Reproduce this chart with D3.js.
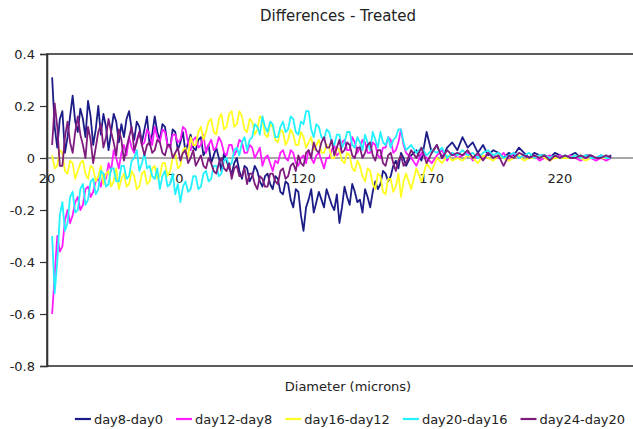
<!DOCTYPE html>
<html>
<head>
<meta charset="utf-8">
<script src="https://cdn.jsdelivr.net/npm/d3@7"></script>
<style>
  body { margin: 0; background: #fff; }
  svg { display: block; }
  text { font-family: "DejaVu Sans", Verdana, sans-serif; fill: #222; }
</style>
</head>
<body>
<svg id="chart" width="633" height="429"></svg>
<script>
// Diameter bins (microns): 1-micron bins up to 160, 2-micron bins beyond
const diameters = [
  22, 23, 24, 25, 26, 27, 28, 29, 30, 31,
  32, 33, 34, 35, 36, 37, 38, 39, 40, 41,
  42, 43, 44, 45, 46, 47, 48, 49, 50, 51,
  52, 53, 54, 55, 56, 57, 58, 59, 60, 61,
  62, 63, 64, 65, 66, 67, 68, 69, 70, 71,
  72, 73, 74, 75, 76, 77, 78, 79, 80, 81,
  82, 83, 84, 85, 86, 87, 88, 89, 90, 91,
  92, 93, 94, 95, 96, 97, 98, 99, 100, 101,
  102, 103, 104, 105, 106, 107, 108, 109, 110, 111,
  112, 113, 114, 115, 116, 117, 118, 119, 120, 121,
  122, 123, 124, 125, 126, 127, 128, 129, 130, 131,
  132, 133, 134, 135, 136, 137, 138, 139, 140, 141,
  142, 143, 144, 145, 146, 147, 148, 149, 150, 151,
  152, 153, 154, 155, 156, 157, 158, 159, 160,
  162, 164, 166, 168, 170, 172, 174, 176, 178, 180,
  182, 184, 186, 188, 190, 192, 194, 196, 198, 200,
  202, 204, 206, 208, 210, 212, 214, 216, 218, 220,
  222, 224, 226, 228, 230, 232, 234, 236, 238, 240
];

const seriesNames = ["day8-day0", "day12-day8", "day16-day12", "day20-day16", "day24-day20"];

const day8_day0 = [
  0.31, 0.12, 0.04, 0.15, 0.18, 0.02, 0.08, 0.16, 0.24, 0.14,
  0.10, 0.19, 0.15, 0.08, 0.22, 0.16, 0.05, 0.11, 0.20, 0.09,
  0.17, 0.12, 0.03, 0.10, 0.17, 0.14, 0.06, 0.13, 0.08, 0.15,
  0.18, 0.11, 0.07, 0.14, 0.12, 0.06, 0.11, 0.16, 0.05, 0.09,
  0.16, 0.10, 0.07, 0.13, 0.12, 0.05, 0.04, 0.11, 0.10, 0.03,
  0.06, 0.10, 0.02, 0.06, 0.09, 0.04, 0.03, 0.07, 0.08, 0.01,
  0.03, 0.05, -0.02, 0.01, 0.04, 0.00, -0.05, 0.02, -0.01, -0.04,
  -0.06, -0.02, 0.00, -0.05, -0.08, -0.03, -0.04, -0.09, -0.07, -0.03,
  -0.05, -0.09, -0.11, -0.07, -0.06, -0.10, -0.12, -0.07, -0.08, -0.13,
  -0.14, -0.09, -0.10, -0.16, -0.19, -0.12, -0.13, -0.22, -0.28, -0.19,
  -0.16, -0.12, -0.21, -0.17, -0.13, -0.16, -0.19, -0.12, -0.15, -0.18,
  -0.20, -0.14, -0.25, -0.19, -0.11, -0.15, -0.18, -0.10, -0.13, -0.17,
  -0.16, -0.21, -0.12, -0.15, -0.19, -0.13, -0.09, -0.12, -0.10, -0.05,
  -0.06, -0.09, -0.07, -0.03, -0.01, -0.04, 0.02, 0.00, -0.03,
  0.01, 0.03, -0.01, 0.10, 0.02, 0.05, 0.00, 0.04, 0.06, 0.03,
  0.08, 0.04, 0.06, 0.02, 0.05, 0.01, 0.03, 0.02, 0.00, 0.02,
  0.01, 0.04, 0.02, 0.00, 0.02, 0.01, 0.01, 0.00, 0.02, 0.01,
  0.00, 0.01, 0.02, 0.00, 0.01, 0.01, 0.00, 0.01, 0.00, 0.01
];

const day12_day8 = [
  -0.60, -0.45, -0.30, -0.36, -0.34, -0.24, -0.20, -0.25, -0.22, -0.17,
  -0.15, -0.20, -0.18, -0.12, -0.11, -0.15, -0.13, -0.09, -0.08, -0.11,
  -0.06, -0.08, -0.02, -0.05, 0.03, 0.00, -0.04, 0.02, 0.05, 0.01,
  0.08, 0.04, 0.02, 0.07, 0.10, 0.05, 0.06, 0.11, 0.09, 0.05,
  0.12, 0.08, 0.06, 0.11, 0.10, 0.05, 0.04, 0.09, 0.09, 0.06,
  0.07, 0.12, 0.11, 0.06, 0.03, 0.07, 0.08, 0.04, 0.05, 0.09,
  0.02, 0.05, 0.07, 0.03, 0.04, 0.08, 0.06, 0.02, 0.01, 0.05,
  0.05, 0.01, 0.03, 0.07, 0.06, 0.02, 0.02, 0.05, 0.04, 0.00,
  0.02, 0.04, -0.03, 0.00, 0.01, -0.02, -0.05, -0.01, -0.02, 0.02,
  0.03, 0.00, -0.01, 0.03, 0.02, -0.02, -0.03, 0.00, 0.01, -0.02,
  0.03, 0.00, -0.02, 0.01, 0.02, -0.01, -0.04, 0.00, 0.00, 0.03,
  0.05, 0.01, 0.02, 0.06, 0.07, 0.03, 0.03, 0.08, 0.06, 0.02,
  0.04, 0.07, 0.06, 0.02, 0.02, 0.06, 0.05, 0.01, 0.00, 0.04,
  0.04, 0.08, 0.07, 0.02, 0.03, 0.06, 0.11, 0.05, 0.02,
  0.00, -0.03, 0.02, 0.00, -0.02, 0.01, 0.03, -0.01, 0.02, 0.00,
  0.01, 0.02, -0.01, 0.01, 0.00, 0.02, 0.01, 0.00, 0.02, -0.01,
  0.02, 0.00, 0.01, 0.00, 0.01, -0.01, 0.00, 0.01, 0.00, 0.01,
  0.00, 0.01, 0.00, -0.01, 0.00, 0.00, -0.01, 0.00, -0.01, 0.00
];

const day16_day12 = [
  0.01, -0.04, -0.03, 0.03, 0.02, -0.05, -0.06, -0.01, -0.02, -0.08,
  -0.05, -0.02, -0.01, -0.06, -0.08, -0.03, -0.04, -0.09, -0.07, -0.03,
  -0.10, -0.06, -0.05, -0.11, -0.09, -0.04, -0.12, -0.08, -0.06, -0.11,
  -0.10, -0.05, -0.07, -0.12, -0.11, -0.06, -0.05, -0.10, -0.09, -0.04,
  -0.03, -0.08, -0.07, -0.02, -0.02, -0.07, -0.05, 0.00, 0.02, -0.04,
  -0.03, 0.03, 0.04, 0.00, 0.08, 0.05, 0.05, 0.10, 0.12, 0.07,
  0.10, 0.14, 0.15, 0.10, 0.09, 0.15, 0.17, 0.11, 0.12, 0.17,
  0.18, 0.12, 0.13, 0.18, 0.16, 0.11, 0.10, 0.15, 0.14, 0.09,
  0.11, 0.16, 0.15, 0.09, 0.08, 0.13, 0.12, 0.07, 0.06, 0.11,
  0.10, 0.05, 0.07, 0.11, 0.09, 0.05, 0.05, 0.10, 0.08, 0.04,
  0.06, 0.08, 0.03, 0.05, 0.07, 0.02, 0.02, 0.05, 0.04, 0.00,
  0.00, 0.04, 0.03, -0.01, -0.02, 0.02, 0.01, -0.04, -0.05, -0.01,
  -0.03, -0.07, -0.09, -0.04, -0.05, -0.10, -0.12, -0.06, -0.07, -0.13,
  -0.14, -0.08, -0.08, -0.13, -0.11, -0.06, -0.15, -0.09, -0.06,
  -0.12, -0.04, -0.09, -0.02, -0.05, 0.00, -0.02, 0.01, -0.01, 0.00,
  -0.01, 0.01, 0.00, -0.02, 0.01, 0.00, -0.01, 0.01, 0.00, -0.01,
  0.00, 0.01, -0.01, 0.00, 0.00, 0.01, 0.00, -0.01, 0.00, 0.00,
  0.00, 0.00, 0.01, 0.00, -0.01, 0.00, 0.00, 0.00, 0.00, 0.00
];

const day20_day16 = [
  -0.30, -0.52, -0.40, -0.22, -0.17, -0.28, -0.25, -0.15, -0.13, -0.21,
  -0.20, -0.12, -0.10, -0.18, -0.16, -0.09, -0.08, -0.14, -0.12, -0.05,
  -0.06, -0.11, -0.10, -0.04, -0.04, -0.09, -0.09, -0.03, -0.03, -0.08,
  -0.07, -0.01, 0.00, 0.03, -0.05, -0.02, 0.02, -0.04, -0.03, -0.07,
  -0.08, -0.04, -0.12, -0.07, -0.05, -0.11, -0.10, -0.06, -0.14, -0.10,
  -0.17, -0.11, -0.09, -0.13, -0.12, -0.07, -0.07, -0.12, -0.11, -0.06,
  -0.05, -0.09, -0.08, -0.03, -0.03, -0.07, -0.06, -0.01, 0.00, -0.03,
  -0.02, 0.03, 0.04, 0.01, 0.06, 0.08, 0.03, 0.07, 0.08, 0.13,
  0.12, 0.09, 0.16, 0.12, 0.10, 0.14, 0.13, 0.08, 0.08, 0.12,
  0.14, 0.10, 0.11, 0.16, 0.15, 0.10, 0.09, 0.14, 0.13, 0.18,
  0.18, 0.11, 0.08, 0.13, 0.12, 0.08, 0.07, 0.11, 0.10, 0.06,
  0.05, 0.09, 0.09, 0.04, 0.06, 0.10, 0.10, 0.05, 0.04, 0.08,
  0.06, 0.03, 0.09, 0.06, 0.03, 0.10, 0.07, 0.04, 0.10, 0.06,
  0.05, 0.08, 0.04, 0.07, 0.08, 0.11, 0.11, 0.06, 0.03,
  0.05, 0.02, 0.04, 0.01, 0.03, 0.02, 0.04, 0.00, 0.02, 0.01,
  0.03, 0.01, 0.02, 0.00, 0.02, 0.03, 0.01, 0.02, 0.00, 0.01,
  0.02, 0.00, 0.01, 0.02, 0.00, 0.01, 0.01, 0.00, 0.01, 0.00,
  0.01, 0.00, 0.01, 0.00, 0.01, 0.00, 0.00, 0.01, 0.00, 0.00
];

const day24_day20 = [
  0.05, 0.21, 0.12, -0.03, -0.03, 0.08, 0.14, 0.06, 0.02, 0.10,
  0.16, 0.09, 0.05, 0.00, 0.12, 0.07, -0.02, 0.04, 0.10, 0.13,
  0.04, 0.08, 0.15, 0.10, 0.06, 0.01, 0.11, 0.07, -0.01, 0.04,
  0.08, 0.12, 0.03, 0.06, 0.10, 0.05, 0.01, 0.05, 0.06, 0.02,
  0.03, 0.07, 0.06, 0.02, 0.01, 0.05, 0.05, 0.00, 0.02, 0.04,
  -0.01, 0.02, 0.03, -0.02, 0.00, 0.03, -0.03, -0.01, 0.01, -0.03,
  -0.04, 0.00, -0.02, -0.05, -0.06, -0.02, 0.00, -0.04, -0.05, -0.02,
  -0.08, -0.04, -0.03, -0.07, -0.07, -0.04, -0.10, -0.06, -0.06, -0.10,
  -0.12, -0.07, -0.08, -0.11, -0.11, -0.06, -0.06, -0.09, -0.10, -0.05,
  -0.04, -0.08, -0.07, -0.03, -0.02, -0.05, 0.01, -0.02, -0.03, 0.02,
  0.03, 0.00, 0.06, 0.03, 0.02, 0.06, 0.08, 0.04, 0.04, 0.07,
  0.01, 0.04, 0.07, 0.02, 0.03, 0.06, 0.05, 0.01, 0.00, 0.04,
  0.04, 0.00, 0.02, 0.05, 0.06, 0.01, -0.01, 0.03, 0.03, -0.02,
  -0.03, 0.01, 0.02, -0.02, -0.05, -0.01, 0.01, -0.03, -0.02,
  0.03, 0.00, 0.04, -0.02, 0.02, 0.05, 0.00, 0.03, 0.01, 0.02,
  0.01, 0.03, 0.00, 0.02, -0.01, 0.02, 0.00, 0.01, -0.03, 0.01,
  0.00, 0.02, 0.01, 0.00, 0.01, 0.00, 0.01, -0.01, 0.01, 0.00,
  0.01, 0.00, 0.00, 0.01, 0.00, 0.01, 0.00, 0.00, 0.01, 0.00
];

const yTicks = [0.4, 0.2, 0, -0.2, -0.4, -0.6, -0.8];
const xTicks = [20, 70, 120, 170, 220];

const seriesValues = [day8_day0, day12_day8, day16_day12, day20_day16, day24_day20];
const seriesColors = ["#1c1c88", "#ff1cff", "#ffff22", "#22f2ff", "#7e1c7e"];

const svg = d3.select("#chart");
const plot = { left: 47, top: 54, right: 649, bottom: 366 };

const x = d3.scaleLinear().domain([20, 254.7]).range([plot.left, plot.right]);
const y = d3.scaleLinear().domain([-0.8, 0.4]).range([plot.bottom, plot.top]);

// Title
svg.append("text")
  .attr("x", 338).attr("y", 21)
  .attr("text-anchor", "middle")
  .style("font-size", "15px")
  .text("Differences - Treated");

// Plot frame
svg.append("rect")
  .attr("x", plot.left).attr("y", plot.top)
  .attr("width", plot.right - plot.left).attr("height", plot.bottom - plot.top)
  .attr("fill", "none").attr("stroke", "#333").attr("stroke-width", 1.6);

// Zero line (category axis)
svg.append("line")
  .attr("x1", plot.left).attr("x2", plot.right)
  .attr("y1", y(0)).attr("y2", y(0))
  .attr("stroke", "#8a8a8a").attr("stroke-width", 1.3);

// Value axis
const yAxis = svg.append("g")
  .attr("transform", `translate(${plot.left},0)`)
  .call(d3.axisLeft(y).tickValues(yTicks).tickSize(7).tickPadding(5).tickFormat(d => String(d)));
yAxis.select(".domain").attr("stroke", "#333").attr("stroke-width", 1.6);
yAxis.selectAll(".tick line").attr("stroke", "#333").attr("stroke-width", 1.2);
yAxis.selectAll(".tick text")
  .style("font-size", "13px")
  .style("font-family", "\"DejaVu Sans\", Verdana, sans-serif")
  .attr("fill", "#222");

// Diameter labels sit just under the zero line
svg.append("g").selectAll("text")
  .data(xTicks)
  .join("text")
  .attr("x", d => x(d))
  .attr("y", y(0) + 25)
  .attr("text-anchor", "middle")
  .style("font-size", "13px")
  .text(d => d);

// Series lines
svg.append("clipPath").attr("id", "plot-clip")
  .append("rect")
  .attr("x", plot.left).attr("y", plot.top)
  .attr("width", plot.right - plot.left).attr("height", plot.bottom - plot.top);

const line = d3.line()
  .x(d => x(d[0]))
  .y(d => y(d[1]));

const lines = svg.append("g").attr("clip-path", "url(#plot-clip)");
seriesValues.forEach((vals, i) => {
  lines.append("path")
    .datum(diameters.map((dm, j) => [dm, vals[j]]))
    .attr("d", line)
    .attr("fill", "none")
    .attr("stroke", seriesColors[i])
    .attr("stroke-width", 1.8)
    .attr("stroke-linejoin", "round");
});

// Axis title
svg.append("text")
  .attr("x", 348).attr("y", 391)
  .attr("text-anchor", "middle")
  .style("font-size", "13px")
  .text("Diameter (microns)");

// Legend, laid out from measured text widths and centred
const legend = svg.append("g");
const swatch = 16, gapText = 3, gapItem = 13, legendY = 419;
let cursor = 0;
seriesNames.forEach((name, i) => {
  const g = legend.append("g");
  g.append("line")
    .attr("x1", 0).attr("x2", swatch)
    .attr("y1", 0).attr("y2", 0)
    .attr("stroke", seriesColors[i]).attr("stroke-width", 2.2);
  const t = g.append("text")
    .attr("x", swatch + gapText).attr("y", 0).attr("dy", "0.35em")
    .style("font-size", "13px")
    .text(name);
  const w = swatch + gapText + t.node().getComputedTextLength();
  g.attr("transform", `translate(${cursor},${legendY})`);
  cursor += w + gapItem;
});
const legendWidth = cursor - gapItem;
legend.attr("transform", `translate(${350 - legendWidth / 2},0)`);
</script>
</body>
</html>
